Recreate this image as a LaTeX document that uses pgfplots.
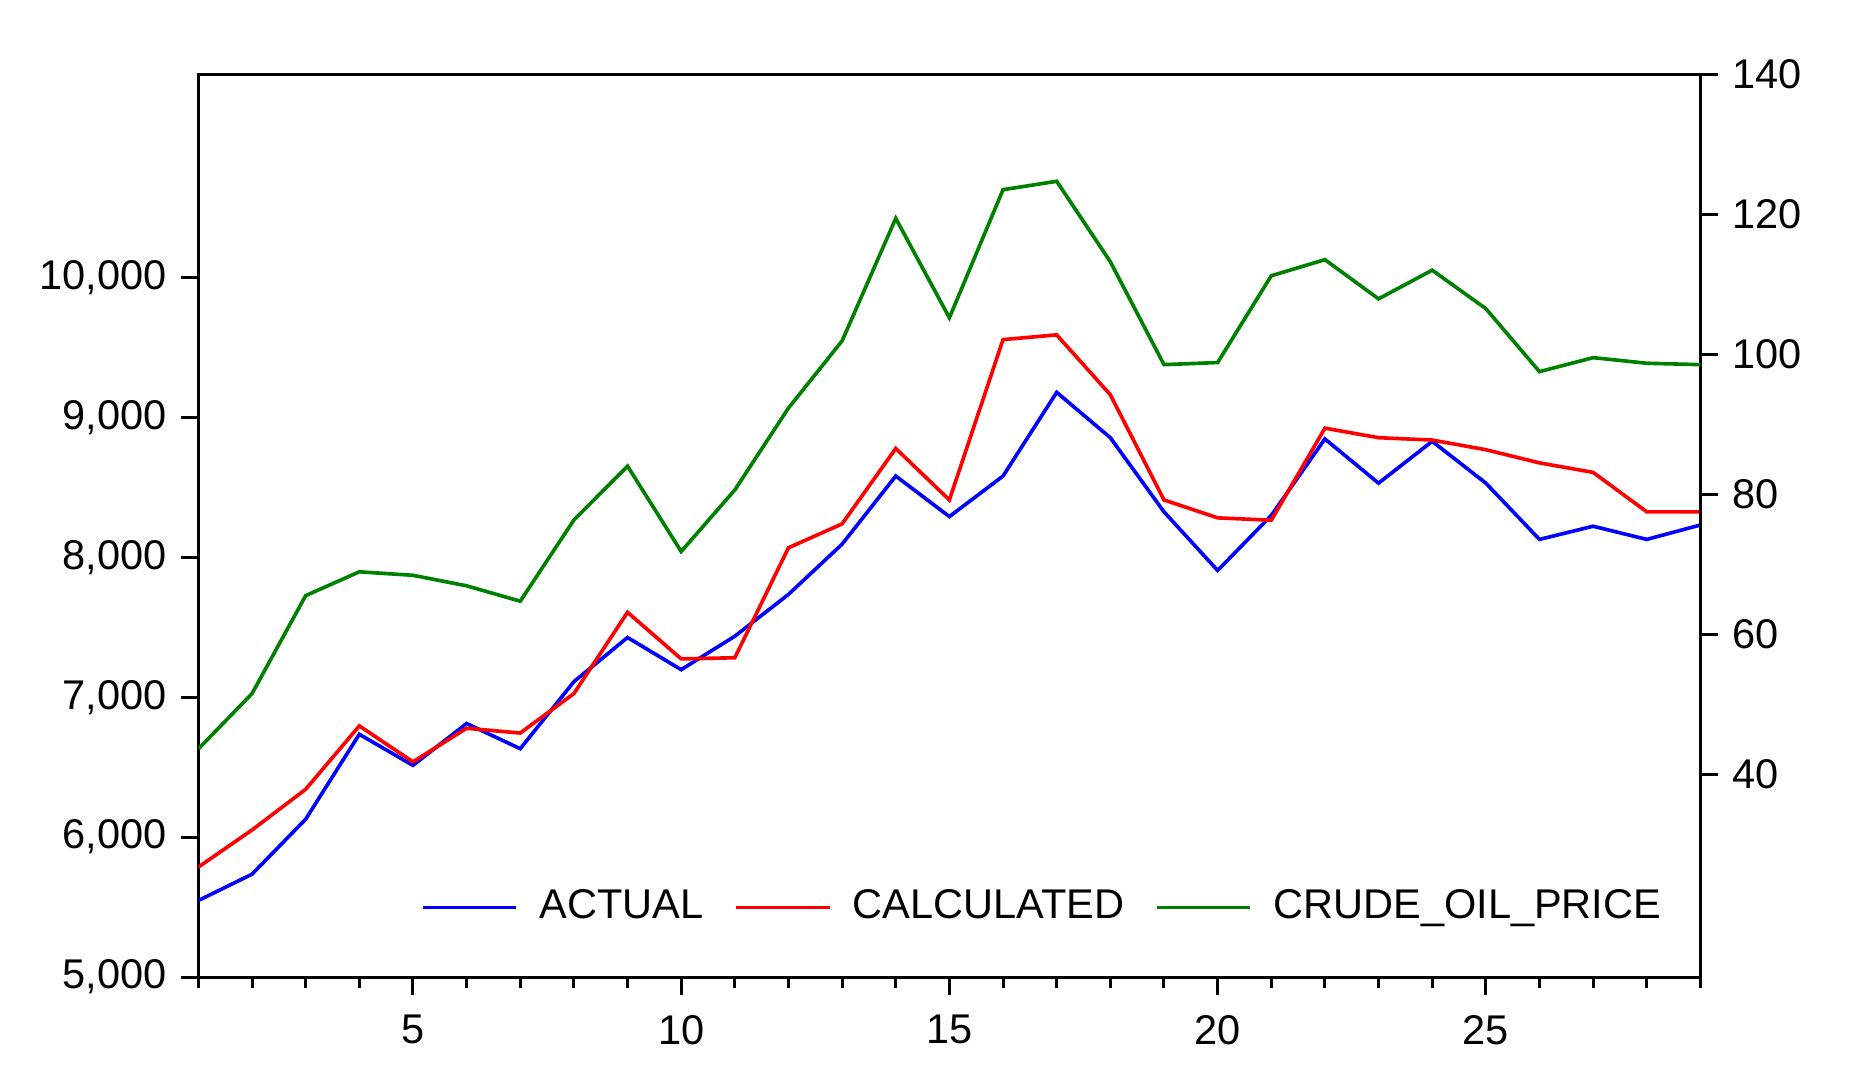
\documentclass[border=0pt]{standalone}
\usepackage{fontspec}
\setmainfont{Liberation Sans}
\usepackage{pgfplots}
\usepackage{pgfplotstable}
\pgfplotsset{compat=1.18}

\definecolor{cgreen}{RGB}{0,128,0}

% x, actual, calculated, crude oil price
\pgfplotstableread{
x act calc oil
1  5547 5786 43.6
2  5735 6051 51.5
3  6128 6342 65.5
4  6735 6795 68.9
5  6513 6538 68.4
6  6812 6778 66.9
7  6632 6744 64.7
8  7111 7026 76.3
9  7427 7607 84.0
10 7197 7274 71.8
11 7436 7282 80.6
12 7735 8068 92.3
13 8094 8239 101.9
14 8581 8778 119.4
15 8291 8410 105.2
16 8581 9556 123.5
17 9179 9590 124.7
18 8855 9162 113.2
19 8325 8410 98.5
20 7906 8282 98.8
21 8299 8265 111.2
22 8846 8923 113.5
23 8530 8855 107.9
24 8829 8838 112.0
25 8530 8769 106.5
26 8128 8675 97.5
27 8222 8607 99.5
28 8128 8325 98.7
29 8231 8325 98.5
}\data

\pgfplotsset{
  base/.style={
    scale only axis, width=372.5pt, height=223.9pt,
    xmin=1, xmax=29,
    tick align=outside,
    major tick length=4.4pt, minor tick length=2.7pt,
    tick style={black, line width=0.75pt},
    axis line style={line width=0.75pt},
    every tick label/.append style={font=\fontsize{10.3}{12}\selectfont},
    /pgf/number format/assume math mode=true,
    every axis plot/.append style={line width=0.9pt, mark=none},
  }
}

\begin{document}
\begin{tikzpicture}
\useasboundingbox (-49.2pt,-26.5pt) rectangle (415.8pt,242.3pt);
\begin{axis}[base,
  ymin=5000, ymax=11453,
  xtick={5,10,15,20,25}, minor xtick={1,...,29},
  ytick={5000,6000,...,10000},
  yticklabels={{5,000},{6,000},{7,000},{8,000},{9,000},{10,000}},
  scaled y ticks=false,
  xtick pos=bottom, ytick pos=left,
  xticklabel style={yshift=-1.5pt},
]
\addplot[blue] table[x=x, y=act] {\data};
\addplot[red] table[x=x, y=calc] {\data};
\end{axis}
\begin{axis}[base,
  ymin=11, ymax=140,
  hide x axis, axis y line*=right,
  ytick={40,60,...,140},
  legend columns=3,
  legend image code/.code={\draw[#1, line width=0.9pt] (0pt,0pt) -- (23.1pt,0pt);},
  legend style={draw=none, fill=none, inner sep=0pt,
    at={(0.148,0.077)}, anchor=west,
    font=\fontsize{10.3}{12}\selectfont,
    nodes={inner sep=0pt},
    /tikz/every odd column/.append style={column sep=5.3pt},
    /tikz/every even column/.append style={column sep=7.7pt}},
]
\addlegendimage{blue}
\addlegendentry{ACTUAL}
\addlegendimage{red}
\addlegendentry{CALCULATED}
\addplot[cgreen] table[x=x, y=oil] {\data};
\addlegendentry{CRUDE\_OIL\_PRICE}
\end{axis}
\end{tikzpicture}
\end{document}
